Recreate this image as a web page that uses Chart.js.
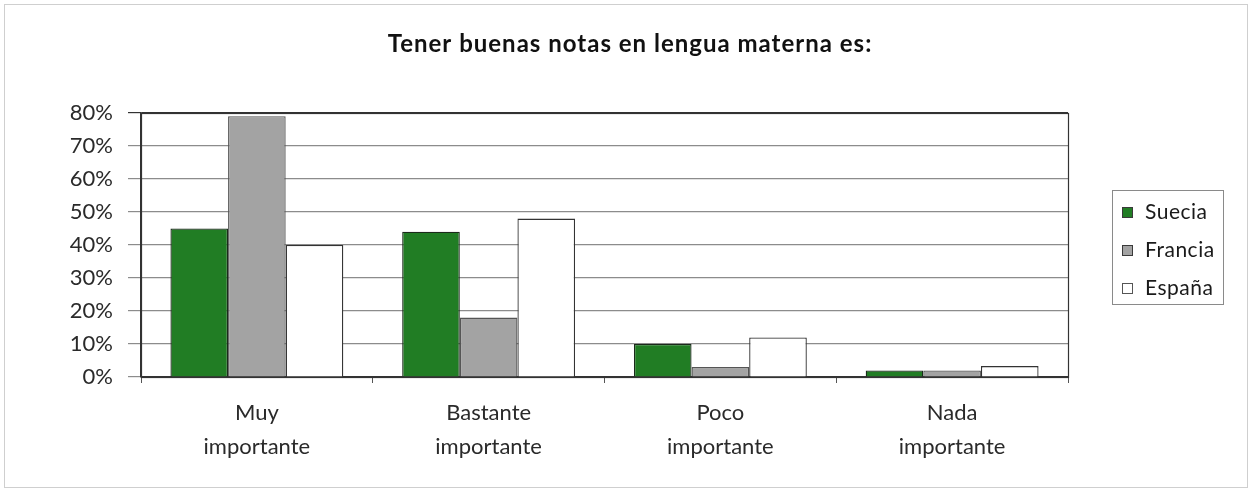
<!DOCTYPE html>
<html>
<head>
<meta charset="utf-8">
<script src="https://cdn.jsdelivr.net/npm/chart.js@4/dist/chart.umd.min.js"></script>
<style>
  html, body { margin: 0; padding: 0; background: #ffffff; }
  #wrap { width: 1252px; height: 492px; position: relative; }
</style>
</head>
<body>
<div id="wrap"><canvas id="c" width="1252" height="492"></canvas></div>
<script>
const chartTitle = "Tener buenas notas en lengua materna es:";
const categories = [["Muy", "importante"], ["Bastante", "importante"], ["Poco", "importante"], ["Nada", "importante"]];
const seriesNames = ["Suecia", "Francia", "España"];
const suecia = [45, 44, 10, 2];
const francia = [79, 18, 3, 2];
const espana = [40, 48, 12, 3.3];
const yTicks = [0, 10, 20, 30, 40, 50, 60, 70, 80];

const FONT = "Lato, 'Open Sans', sans-serif";
const fills = ["#217d24", "#a3a3a3", "#ffffff"];
const edges = ["#1b2a1b", "#555555", "#333333"];

// Title, frames and the boxed legend on the right
const decorations = {
  id: "decorations",
  afterDraw(chart) {
    const ctx = chart.ctx;
    const a = chart.chartArea;
    ctx.save();
    // outer frame
    ctx.strokeStyle = "#cfcfcf";
    ctx.lineWidth = 1;
    ctx.strokeRect(4.5, 4.5, 1243, 483);
    // title
    ctx.fillStyle = "#111111";
    ctx.font = "bold 24px " + FONT;
    ctx.letterSpacing = "1px";
    ctx.textAlign = "center";
    ctx.textBaseline = "alphabetic";
    ctx.fillText(chartTitle, 630, 52);
    ctx.letterSpacing = "0px";
    // plot frame
    ctx.strokeStyle = "#333333";
    ctx.lineWidth = 1.2;
    ctx.strokeRect(Math.round(a.left) + 0.5, Math.round(a.top) + 0.5,
                   Math.round(a.right - a.left), Math.round(a.bottom - a.top));
    // legend box
    const lx = 1112, ly = 190, lw = 111, lh = 114;
    ctx.strokeStyle = "#8a8a8a";
    ctx.lineWidth = 1;
    ctx.strokeRect(lx + 0.5, ly + 0.5, lw, lh);
    ctx.font = "21px " + FONT;
    ctx.letterSpacing = "0.5px";
    ctx.textBaseline = "middle";
    ctx.textAlign = "left";
    chart.data.datasets.forEach((ds, i) => {
      const cy = 212 + i * 38;
      ctx.fillStyle = ds.backgroundColor;
      ctx.fillRect(1122, cy - 5, 11, 11);
      ctx.strokeStyle = i === 2 ? "#555555" : "#3a3a3a";
      ctx.lineWidth = 1;
      ctx.strokeRect(1122.5, cy - 4.5, 10, 10);
      ctx.fillStyle = "#1a1a1a";
      ctx.fillText(ds.label, 1145, cy);
    });
    ctx.restore();
  }
};

const series = [suecia, francia, espana];

new Chart(document.getElementById("c"), {
  type: "bar",
  data: {
    labels: categories,
    datasets: seriesNames.map((name, i) => ({
      label: name,
      data: series[i],
      backgroundColor: fills[i],
      borderColor: edges[i],
      borderWidth: 1.3,
      borderSkipped: "bottom",
      categoryPercentage: 0.746,
      barPercentage: 1.0
    }))
  },
  options: {
    responsive: false,
    animation: false,
    devicePixelRatio: 1,
    layout: { padding: { left: 0, right: 184, top: 113, bottom: 0 } },
    plugins: {
      legend: { display: false },
      tooltip: { enabled: false },
      title: { display: false }
    },
    scales: {
      x: {
        offset: true,
        grid: {
          offset: true,
          drawOnChartArea: false,
          drawTicks: true,
          tickLength: 6,
          color: "#555555"
        },
        border: { display: true, color: "#333333", width: 1.2 },
        ticks: {
          color: "#2a2a2a",
          font: { family: FONT, size: 22, lineHeight: 1.55 },
          padding: 13,
          maxRotation: 0,
          autoSkip: false
        },
        afterFit(scale) { scale.height = 115; }
      },
      y: {
        min: 0,
        max: 80,
        afterBuildTicks(scale) { scale.ticks = yTicks.map(v => ({ value: v })); },
        grid: {
          color: ctx => (ctx.tick && ctx.tick.value === 80) ? "#333333" : "#8c8c8c",
          lineWidth: 1.2,
          tickLength: 13
        },
        border: { display: true, color: "#333333", width: 1.2 },
        ticks: {
          color: "#2a2a2a",
          font: { family: FONT, size: 22 },
          padding: 15,
          callback: v => v + "%"
        },
        afterFit(scale) { scale.width = 141; }
      }
    }
  },
  plugins: [decorations]
});
</script>
</body>
</html>
